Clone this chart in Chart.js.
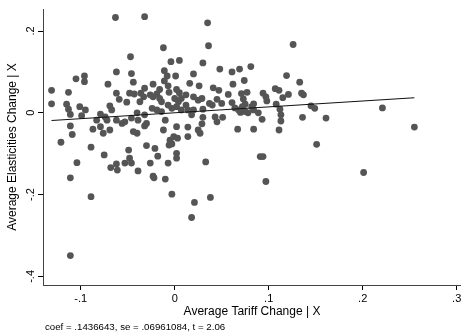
<!DOCTYPE html>
<html>
<head>
<meta charset="utf-8">
<script src="https://cdn.jsdelivr.net/npm/chart.js@4"></script>
<style>
  html, body { margin: 0; padding: 0; background: #fff; }
  #chart { display: block; }
</style>
</head>
<body>
<canvas id="chart" width="461" height="336"></canvas>
<script>
// Added-variable plot: residual tariff change (x) vs residual elasticity change (y)
const tariffChange = [
  -0.063, -0.032, 0.035,
  -0.012, -0.047, -0.004, 0.005, 0.030, -0.062, -0.046, -0.096, -0.096, -0.011,
  -0.008, 0.001, 0.020, -0.044, -0.071, -0.023, -0.011, -0.007, 0.016, 0.026,
  -0.062, -0.059, -0.048, -0.043, -0.051, -0.036, -0.033, -0.032, -0.037, -0.026,
  -0.023, -0.019, -0.016, -0.016, -0.014, -0.006, 0.002, 0.005, 0.000, 0.004,
  0.007, 0.012, 0.020, 0.025, -0.101, -0.095, -0.099, -0.069, -0.067, -0.079,
  -0.074, -0.072, -0.062, -0.056, -0.053, -0.046, -0.040, -0.039, -0.032, -0.030,
  -0.024, -0.019, -0.014, -0.010, -0.007, -0.003, 0.002, 0.007, 0.012, 0.014,
  0.018, 0.020, 0.030, -0.087, -0.083, -0.079, -0.076, -0.069, -0.044, -0.040,
  -0.032, -0.012, -0.005, -0.001, 0.003, 0.002, 0.014, 0.014, 0.025, 0.027,
  -0.089, -0.075, -0.049, -0.030, -0.021, -0.018, -0.006, -0.003, 0.002, 0.002,
  -0.053, -0.048, -0.046, -0.062, -0.026, -0.007, 0.033,
  0.036, 0.126, 0.048, 0.061, 0.069, 0.081, 0.119, 0.133, 0.062, 0.074,
  0.041, 0.047, 0.057, 0.071, 0.077, 0.094, 0.107, 0.111, 0.121, 0.135,
  0.137, 0.029, 0.037, 0.040, 0.050, 0.045, 0.061, 0.073, 0.075, 0.072,
  0.084, 0.082, 0.097, 0.098, 0.108, 0.115, 0.112, 0.113, 0.113, 0.111,
  0.145, 0.149, 0.136, 0.161, 0.030, 0.064, 0.068, 0.070, 0.075, 0.078,
  0.084, 0.089, 0.093, 0.043, 0.045, 0.051, 0.029, 0.067, 0.084, 0.151,
  0.091, 0.094,
  -0.105, -0.131, -0.113, -0.131, -0.115, -0.113, -0.111, -0.111, -0.109, -0.121,
  -0.104, -0.111, -0.111,
  -0.068, -0.061, -0.039, -0.023, -0.022, -0.010, -0.089, -0.003, 0.097, 0.038,
  0.021, 0.018,
  0.221, 0.255, 0.201
];
const elasticityChange = [
  0.233, 0.235, 0.220,
  0.159, 0.137, 0.125, 0.128, 0.122, 0.100, 0.096, 0.090, 0.076, 0.103,
  0.090, 0.090, 0.095, 0.075, 0.070, 0.070, 0.078, 0.066, 0.072, 0.066,
  0.048, 0.033, 0.048, 0.046, 0.026, 0.048, 0.039, 0.060, 0.027, 0.044,
  0.039, 0.046, 0.057, 0.035, 0.027, 0.050, 0.057, 0.049, 0.035, 0.027,
  0.035, 0.044, 0.039, 0.031, 0.015, 0.007, -0.007, 0.017, 0.007, -0.003,
  -0.010, -0.018, -0.018, -0.026, -0.022, -0.013, 0.000, -0.018, -0.005, -0.026,
  0.011, 0.007, 0.003, -0.018, 0.019, 0.011, 0.015, 0.007, 0.019, 0.007,
  -0.005, 0.007, -0.011, -0.040, -0.018, -0.034, -0.050, -0.042, -0.046, -0.050,
  -0.032, -0.042, -0.067, -0.058, -0.062, -0.034, -0.035, -0.058, -0.042, -0.050,
  -0.084, -0.103, -0.091, -0.080, -0.087, -0.106, -0.079, -0.076, -0.099, -0.111,
  -0.123, -0.111, -0.123, -0.125, -0.123, -0.123, -0.120,
  0.164, 0.167, 0.107, 0.100, 0.107, 0.113, 0.091, 0.075, 0.070, 0.079,
  0.061, 0.055, 0.045, 0.047, 0.050, 0.048, 0.059, 0.055, 0.045, 0.048,
  0.044, 0.035, 0.023, 0.019, 0.023, 0.033, 0.025, 0.034, 0.021, 0.015,
  0.022, 0.015, 0.039, 0.029, 0.021, 0.037, 0.009, -0.005, -0.020, -0.042,
  0.017, 0.011, -0.011, -0.013, 0.009, 0.012, 0.007, 0.001, 0.003, 0.000,
  0.007, 0.000, -0.016, -0.010, -0.022, -0.011, -0.027, -0.040, -0.040, -0.077,
  -0.107, -0.107,
  0.083, 0.055, 0.050, 0.022, 0.021, 0.009, -0.004, -0.032, -0.053, -0.072,
  -0.122, -0.159, -0.349,
  -0.134, -0.140, -0.142, -0.155, -0.159, -0.162, -0.205, -0.199, -0.168, -0.207,
  -0.219, -0.256,
  0.012, -0.035, -0.146
];

const coef = 0.1436643;
const footnote = "coef = .1436643, se = .06961084, t = 2.06";

const xTicks = [-0.1, 0, 0.1, 0.2, 0.3];
const xTickLabels = ["-.1", "0", ".1", ".2", ".3"];
const yTicks = [-0.4, -0.2, 0, 0.2];
const yTickLabels = ["-.4", "-.2", "0", ".2"];
const xTitle = "Average Tariff Change | X";
const yTitle = "Average Elasticities Change | X";

const FONT = "'Liberation Sans', Arial, Helvetica, sans-serif";

const points = tariffChange.map((x, i) => ({ x: x, y: elasticityChange[i] }));
const xMin = Math.min(...tariffChange);
const xMax = Math.max(...tariffChange);
const fitLine = [
  { x: xMin, y: coef * xMin },
  { x: xMax, y: coef * xMax }
];

// rotated y tick labels + footnote under the plot
const extraText = {
  id: "extraText",
  afterDraw(chart) {
    const ctx = chart.ctx;
    const yScale = chart.scales.y;
    ctx.save();
    ctx.fillStyle = "#000";
    ctx.font = "11px " + FONT;
    ctx.textAlign = "center";
    ctx.textBaseline = "middle";
    yTicks.forEach((v, i) => {
      const py = yScale.getPixelForValue(v);
      ctx.save();
      ctx.translate(yScale.right - 12, py);
      ctx.rotate(-Math.PI / 2);
      ctx.fillText(yTickLabels[i], 0, 0);
      ctx.restore();
    });
    ctx.font = "9.7px " + FONT;
    ctx.textAlign = "left";
    ctx.fillText(footnote, 45, 327);
    ctx.restore();
  }
};

new Chart(document.getElementById("chart"), {
  type: "scatter",
  data: {
    datasets: [
      {
        type: "line",
        data: fitLine,
        borderColor: "#111",
        borderWidth: 1.1,
        pointRadius: 0,
        fill: false
      },
      {
        data: points,
        backgroundColor: "#555",
        borderWidth: 0,
        pointRadius: 3.4
      }
    ]
  },
  options: {
    responsive: false,
    animation: false,
    devicePixelRatio: 1,
    layout: { autoPadding: false, padding: { top: 9, right: 0, left: 0, bottom: 0 } },
    plugins: {
      legend: { display: false },
      tooltip: { enabled: false }
    },
    scales: {
      x: {
        type: "linear",
        min: -0.1401,
        max: 0.3046,
        afterBuildTicks: s => { s.ticks = xTicks.map(v => ({ value: v })); },
        afterFit: s => {
          s.height = 51;
          s.paddingLeft = 0;
          s.paddingRight = 0;
        },
        ticks: {
          callback: (v, i) => xTickLabels[i],
          color: "#000",
          font: { family: FONT, size: 11 },
          padding: 2,
          maxRotation: 0
        },
        grid: { drawOnChartArea: false, drawTicks: true, tickLength: 5, tickColor: "#000" },
        border: { display: true, color: "#444", width: 1 },
        title: {
          display: true,
          text: xTitle,
          color: "#000",
          font: { family: FONT, size: 12 },
          padding: { top: 0, bottom: 17 }
        }
      },
      y: {
        type: "linear",
        min: -0.421,
        max: 0.2538,
        afterBuildTicks: s => { s.ticks = yTicks.map(v => ({ value: v })); },
        afterFit: s => {
          s.width = 43;
          s.paddingTop = 0;
          s.paddingBottom = 0;
        },
        ticks: { display: false },
        grid: { drawOnChartArea: false, drawTicks: true, tickLength: 5, tickColor: "#000" },
        border: { display: true, color: "#444", width: 1 },
        title: {
          display: true,
          text: yTitle,
          color: "#000",
          font: { family: FONT, size: 12 },
          padding: { top: 5, bottom: 0 }
        }
      }
    }
  },
  plugins: [extraText]
});
</script>
</body>
</html>
